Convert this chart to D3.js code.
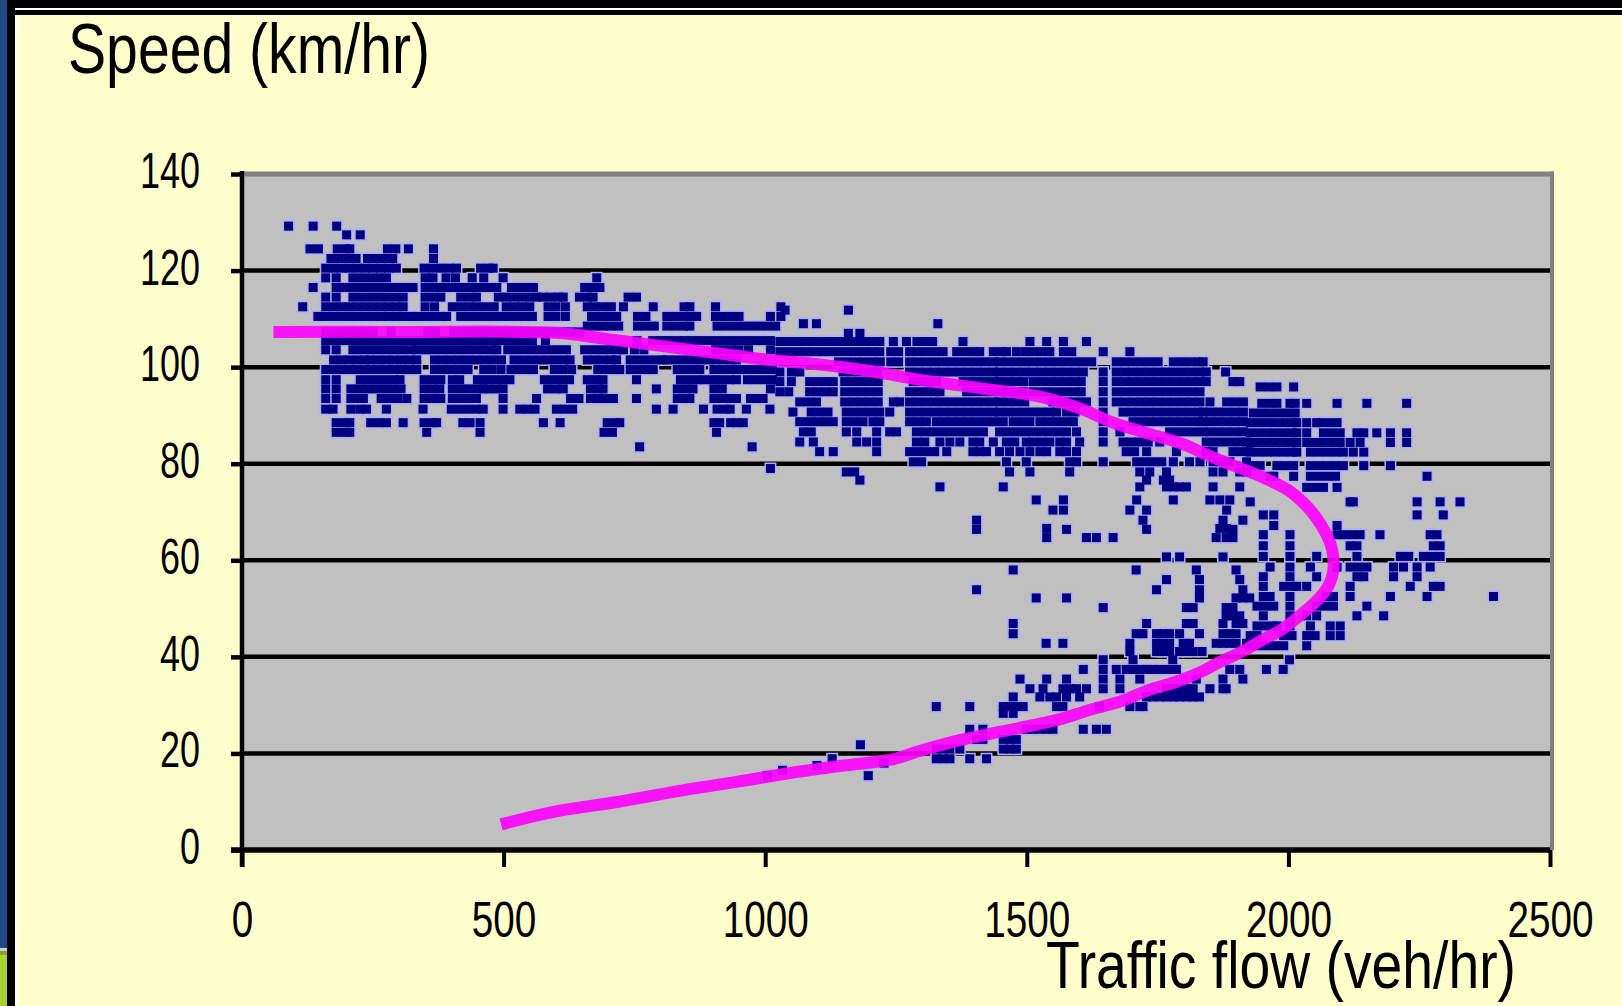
<!DOCTYPE html>
<html>
<head>
<meta charset="utf-8">
<title>Speed - flow</title>
<script src="https://cdn.jsdelivr.net/npm/d3@7"></script>
<style>
  html, body { margin: 0; padding: 0; background: #ffffcc; overflow: hidden; }
  text { font-family: "Liberation Sans", Arial, sans-serif; fill: #000; }
</style>
</head>
<body>
<svg id="chart" width="1622" height="1006"></svg>
<script>
/* axis ticks */
const flowTicks = [0, 500, 1000, 1500, 2000, 2500];
const speedTicks = [0, 20, 40, 60, 80, 100, 120, 140];

/* observed points, grouped by row: [speed, [flows...]] */
// free flow part (low flow, high speed)
const freeFlowRows = [
    [129.2, [89, 136, 181]],
    [127.4, [200, 226]],
    [124.5, [130, 146, 182, 198, 206, 278, 294, 318, 366]],
    [122.5, [170, 186, 202, 218, 240, 256, 272, 288, 366]],
    [120.5, [160, 175, 190, 205, 220, 235, 250, 265, 280, 295, 348, 364, 380, 396, 410, 456, 472, 480]],
    [118.5, [160, 180, 212, 228, 244, 260, 276, 350, 365, 390, 408, 440, 462, 499, 678]],
    [116.5, [136, 180, 195, 210, 225, 240, 255, 270, 285, 300, 315, 327, 350, 365, 380, 395, 412, 428, 444, 460, 475, 487, 515, 530, 545, 557, 655, 670, 684]],
    [114.5, [160, 180, 212, 228, 244, 260, 276, 292, 308, 350, 366, 380, 418, 434, 448, 490, 505, 520, 535, 550, 563, 575, 590, 605, 614, 645, 660, 671, 738, 754]],
    [112.5, [116, 160, 175, 190, 205, 220, 235, 250, 265, 280, 295, 308, 350, 368, 402, 418, 434, 450, 466, 482, 505, 520, 535, 550, 585, 600, 618, 660, 675, 690, 706, 729, 786, 845, 856, 905, 1030]],
    [110.5, [145, 160, 175, 190, 205, 220, 235, 250, 265, 280, 295, 310, 325, 334, 350, 365, 380, 391, 418, 434, 450, 466, 482, 498, 510, 525, 540, 555, 585, 600, 618, 668, 684, 700, 716, 756, 772, 812, 828, 844, 860, 869, 905, 920, 936, 950, 1010, 1030]],
    [108.5, [660, 675, 690, 705, 720, 756, 772, 788, 812, 828, 844, 856, 908, 924, 940, 956, 972, 988, 1004, 1020]],
    [107.3, [160, 175, 190, 205, 220, 235, 250, 285, 355, 370, 405, 420, 435, 450, 465, 480, 495, 510, 525, 540, 555, 570, 585, 600, 615, 630, 645]],
    [105.5, [160, 175, 190, 205, 220, 235, 250, 265, 280, 295, 310, 325, 334, 350, 365, 380, 395, 410, 425, 440, 455, 470, 485, 498, 510, 525, 540, 555, 580, 755, 785, 800, 815, 830, 845, 860, 875, 890, 905, 920, 935, 950, 965, 980, 995, 1010]],
    [103.6, [160, 180, 212, 228, 244, 260, 276, 292, 308, 324, 334, 350, 366, 382, 398, 414, 430, 446, 462, 478, 487, 508, 524, 540, 556, 572, 588, 604, 620, 655, 671, 687, 703, 719, 729, 750, 768, 905, 920, 935, 950, 968, 1010]],
    [101.5, [175, 190, 205, 220, 235, 245, 260, 275, 290, 305, 320, 334, 368, 384, 400, 416, 432, 448, 464, 480, 496, 520, 536, 552, 568, 584, 600, 616, 627, 660, 675, 690, 705, 716, 742, 758, 774, 790, 805, 812, 828, 844, 860, 876, 892, 905, 920, 935, 945]],
    [99.5, [160, 175, 190, 205, 220, 235, 245, 260, 275, 290, 305, 320, 334, 368, 384, 400, 416, 432, 462, 478, 495, 514, 530, 545, 557, 597, 613, 630, 680, 696, 712, 722, 742, 758, 774, 786, 832, 848, 864, 875, 902, 918, 934, 950, 966, 982, 998, 1014]],
    [97.4, [160, 180, 226, 242, 258, 274, 290, 302, 348, 364, 380, 402, 416, 450, 466, 482, 498, 512, 578, 594, 610, 626, 660, 676, 690, 754, 838, 854, 870, 884, 900, 916, 932, 945, 966, 982, 998, 1014]],
    [95.5, [160, 180, 208, 224, 240, 256, 272, 288, 304, 348, 364, 378, 402, 418, 434, 450, 461, 470, 485, 499, 584, 600, 614, 666, 682, 690, 792, 832, 848, 862, 902, 918, 1010]],
    [93.5, [160, 180, 208, 224, 232, 266, 282, 298, 315, 348, 364, 380, 402, 418, 434, 448, 499, 563, 628, 644, 666, 682, 698, 710, 754, 832, 848, 856, 902, 918, 934, 945, 972, 984, 996]],
    [91.3, [160, 174, 208, 225, 238, 276, 346, 400, 416, 432, 448, 461, 499, 531, 545, 560, 601, 616, 632, 792, 824, 882, 908, 924, 933, 964, 1009]],
    [88.5, [180, 196, 206, 246, 262, 276, 308, 348, 364, 372, 422, 436, 455, 576, 608, 698, 714, 722, 902, 913, 934, 945, 958]],
    [86.5, [180, 196, 206, 353, 455, 692, 708, 907]],
    [83.5, [760, 975]],
    [79, [1010]]
];

// transition part (flow 1000 - 1930)
const transitionRows = [
    [111.8, [1038, 1159]],
    [109, [1073, 1098, 1330]],
    [107, [1159, 1181]],
    [105.3, [1028, 1044, 1060, 1076, 1092, 1108, 1124, 1140, 1156, 1172, 1188, 1204, 1219, 1245, 1270, 1290, 1305, 1320, 1378, 1506, 1538, 1570, 1614]],
    [103.2, [1028, 1044, 1060, 1076, 1092, 1108, 1124, 1140, 1156, 1172, 1188, 1204, 1219, 1240, 1255, 1276, 1292, 1308, 1324, 1340, 1366, 1382, 1398, 1410, 1436, 1452, 1461, 1480, 1497, 1512, 1528, 1544, 1570, 1586, 1646, 1697]],
    [101.1, [1140, 1156, 1172, 1188, 1204, 1220, 1240, 1255, 1276, 1292, 1308, 1324, 1340, 1356, 1372, 1388, 1404, 1420, 1436, 1448, 1464, 1480, 1496, 1512, 1528, 1544, 1560, 1576, 1592, 1608, 1624, 1671, 1687, 1703, 1719, 1735, 1751, 1780, 1796, 1812, 1828, 1837]],
    [99, [1028, 1050, 1066, 1149, 1165, 1181, 1197, 1213, 1276, 1292, 1308, 1324, 1340, 1356, 1372, 1388, 1404, 1420, 1436, 1448, 1464, 1480, 1496, 1512, 1528, 1544, 1560, 1576, 1592, 1608, 1646, 1671, 1687, 1703, 1719, 1735, 1751, 1767, 1783, 1799, 1815, 1831, 1843, 1880]],
    [97, [1028, 1050, 1085, 1100, 1115, 1130, 1152, 1168, 1184, 1200, 1216, 1283, 1299, 1315, 1327, 1378, 1394, 1410, 1426, 1442, 1448, 1464, 1478, 1494, 1512, 1528, 1544, 1560, 1576, 1592, 1604, 1646, 1671, 1687, 1703, 1719, 1735, 1751, 1767, 1783, 1799, 1815, 1831, 1843, 1894, 1907]],
    [94.9, [1028, 1045, 1085, 1100, 1115, 1130, 1152, 1168, 1184, 1200, 1216, 1276, 1292, 1308, 1324, 1334, 1385, 1401, 1417, 1433, 1448, 1461, 1477, 1493, 1512, 1528, 1544, 1560, 1576, 1592, 1604, 1646, 1671, 1687, 1703, 1719, 1735, 1751, 1767, 1783, 1799, 1815, 1831]],
    [92.8, [1066, 1082, 1098, 1152, 1168, 1184, 1200, 1216, 1245, 1257, 1276, 1292, 1308, 1324, 1340, 1356, 1372, 1388, 1404, 1420, 1436, 1448, 1464, 1480, 1496, 1550, 1566, 1582, 1598, 1614, 1646, 1671, 1687, 1703, 1719, 1735, 1751, 1767, 1783, 1799, 1815, 1831, 1850, 1882, 1898, 1914]],
    [90.7, [1053, 1088, 1104, 1120, 1155, 1171, 1187, 1203, 1219, 1238, 1276, 1292, 1308, 1324, 1340, 1356, 1372, 1388, 1404, 1420, 1436, 1448, 1464, 1480, 1496, 1512, 1528, 1544, 1557, 1576, 1592, 1646, 1684, 1700, 1716, 1732, 1748, 1764, 1780, 1796, 1812, 1828, 1837, 1850, 1866, 1882, 1898, 1914]],
    [88.7, [1066, 1082, 1098, 1114, 1130, 1155, 1171, 1187, 1206, 1219, 1276, 1292, 1308, 1327, 1343, 1359, 1375, 1391, 1407, 1423, 1439, 1455, 1474, 1490, 1506, 1525, 1541, 1557, 1573, 1589, 1646, 1703, 1719, 1735, 1751, 1767, 1783, 1799, 1815, 1831, 1837, 1850, 1866, 1882, 1898, 1914]],
    [86.6, [1073, 1088, 1155, 1175, 1213, 1238, 1251, 1289, 1305, 1321, 1337, 1353, 1369, 1385, 1401, 1417, 1448, 1464, 1480, 1496, 1512, 1528, 1544, 1560, 1576, 1595, 1646, 1678, 1773, 1789, 1805, 1821, 1837, 1850, 1866, 1882, 1898, 1914]],
    [84.5, [1066, 1092, 1175, 1194, 1213, 1289, 1305, 1334, 1353, 1372, 1397, 1410, 1436, 1461, 1477, 1499, 1512, 1528, 1544, 1563, 1576, 1601, 1646, 1684, 1700, 1716, 1732, 1754, 1843, 1859, 1875, 1891, 1907, 1920]],
    [82.5, [1104, 1130, 1213, 1276, 1292, 1308, 1324, 1347, 1397, 1410, 1423, 1448, 1467, 1487, 1506, 1525, 1538, 1563, 1576, 1595, 1690, 1706, 1729, 1786, 1843, 1856, 1894, 1910, 1925]],
    [80.4, [1283, 1299, 1461, 1499, 1582, 1595, 1646, 1710, 1726, 1742, 1758, 1780, 1811, 1831, 1856, 1872, 1888, 1920]],
    [78.3, [1155, 1171, 1467, 1506, 1582, 1716, 1735, 1767, 1856, 1875, 1907, 1920]],
    [76.6, [1181, 1729, 1761, 1773]],
    [75.2, [1334, 1455, 1716, 1767, 1780, 1792, 1805, 1856, 1907]],
    [72.5, [1518, 1570, 1710, 1780, 1850, 1869, 1888]],
    [70.4, [1550, 1570, 1697, 1729, 1882]],
    [68.3, [1404, 1722, 1875, 1913]],
    [66.6, [1538, 1869, 1882]]
];

// near capacity (flow above 1925)
const capacityRows = [
    [95.9, [1946, 1962, 1978, 2010]],
    [92.5, [1949, 1965, 1978, 2003, 2013, 2035, 2093, 2150, 2226]],
    [90.5, [1933, 1949, 1965, 1981, 1997, 2013]],
    [88.5, [1927, 1943, 1959, 1975, 1991, 2007, 2016, 2035, 2054, 2061, 2077, 2093]],
    [86.4, [1927, 1943, 1959, 1975, 1991, 2007, 2016, 2035, 2067, 2083, 2099, 2131, 2144, 2169, 2195, 2226]],
    [84.4, [1927, 1943, 1959, 1975, 1991, 2007, 2016, 2035, 2051, 2067, 2083, 2099, 2118, 2137, 2195, 2226]],
    [82.4, [1927, 1943, 1959, 1975, 1991, 2007, 2016, 2042, 2058, 2074, 2090, 2105, 2124, 2144]],
    [79.6, [1930, 1946, 1978, 1994, 2010, 2042, 2058, 2074, 2090, 2105, 2144, 2195]],
    [77.4, [1965, 1972, 2010, 2042, 2058, 2074, 2090, 2265]],
    [75.1, [2035, 2051, 2067, 2093]],
    [72.1, [1927, 2118, 2124, 2246, 2290, 2328]],
    [69.4, [1952, 1972, 2246, 2296]],
    [67.2, [1972, 2093]],
    [65.3, [1952, 2003, 2093, 2105, 2121, 2137, 2175, 2271, 2284]],
    [63, [1952, 2003, 2118, 2131, 2277, 2290]],
    [60.8, [1952, 2003, 2054, 2131, 2214, 2230, 2258, 2274, 2290]],
    [58.6, [1965, 2003, 2042, 2093, 2118, 2134, 2150, 2201, 2220, 2246, 2271]],
    [56.6, [1952, 2003, 2054, 2131, 2144, 2201, 2246]],
    [54.6, [1952, 1991, 2007, 2016, 2035, 2118, 2233, 2277, 2290]],
    [52.5, [1952, 1965, 2003, 2074, 2086, 2118, 2195, 2265, 2392]],
    [50.5, [1940, 1956, 1972, 2003, 2054, 2070, 2086, 2150]],
    [48.5, [1952, 2003, 2035, 2054, 2131, 2182]],
    [46.4, [1940, 1956, 1972, 1978, 2003, 2042, 2080, 2099]],
    [44.4, [1927, 1940, 1991, 2007, 2035, 2051, 2080, 2099]],
    [42.3, [1927, 1943, 1959, 1975, 1991, 2035]]
];

// congested part (low speed)
const congestedRows = [
    [66.4, [1404, 1576, 1729, 1894]],
    [64.7, [1538, 1614, 1633, 1665, 1862, 1881, 1894]],
    [60.7, [1767, 1792, 1875]],
    [58, [1474, 1709, 1824, 1900]],
    [56, [1767, 1830, 1907]],
    [53.9, [1404, 1748, 1830, 1913]],
    [52.2, [1518, 1576, 1830, 1900, 1913, 1926]],
    [50.2, [1646, 1805, 1818, 1881, 1894]],
    [48.5, [1881, 1894, 1907]],
    [46.9, [1474, 1729, 1805, 1818, 1875, 1900, 1913]],
    [44.8, [1474, 1709, 1722, 1748, 1760, 1773, 1792, 1830, 1875, 1888, 1900]],
    [42.8, [1537, 1569, 1697, 1748, 1760, 1773, 1799, 1811, 1862, 1875, 1888, 1900, 1920]],
    [41.1, [1697, 1748, 1760, 1773, 1792, 1805, 1818, 1835]],
    [39.4, [1646, 1703, 1779, 2002]],
    [37.4, [1608, 1646, 1671, 1690, 1703, 1716, 1729, 1741, 1754, 1770, 1786, 1888, 1907, 1958, 1990]],
    [35.4, [1487, 1538, 1576, 1646, 1678, 1716, 1824, 1875, 1913]],
    [33.4, [1506, 1531, 1569, 1582, 1595, 1614, 1646, 1678, 1767, 1780, 1792, 1805, 1818, 1850, 1875, 1881]],
    [31.7, [1474, 1525, 1544, 1557, 1576, 1601, 1729, 1741, 1754, 1767, 1780, 1792, 1805, 1818, 1830]],
    [29.7, [1327, 1391, 1455, 1467, 1480, 1493, 1557, 1569, 1639, 1697, 1716, 1722]],
    [28.3, [1455, 1474]],
    [25, [1391, 1416, 1499, 1512, 1525, 1538, 1550, 1608, 1633, 1652]],
    [22.9, [1404, 1416, 1455, 1468, 1480]],
    [21.8, [1182]],
    [20.9, [1327, 1340, 1353, 1372, 1455, 1468, 1480]],
    [18.9, [1128, 1327, 1340, 1353, 1391, 1423]],
    [18, [1227]],
    [17.5, [1099]],
    [16.5, [1033]],
    [15.4, [1004, 1197]]
];

/* fitted speed-flow relation */
const speedFlowCurve = [
    [60, 107.3], [300, 107.3], [600, 107.1], [700, 105.8], [800, 104.4], [900, 103], [1000, 101.6],
    [1100, 100.6], [1200, 99.2], [1300, 97.3], [1420, 95.5], [1520, 94], [1600, 91.5], [1665, 88.5],
    [1740, 86], [1800, 84], [1845, 81.8], [1910, 79], [1955, 77], [2000, 74.5], [2028, 72], [2052, 69],
    [2072, 65.5], [2084, 62], [2086, 58], [2078, 55], [2062, 52.5], [2038, 50], [2010, 47.5],
    [1985, 45.5], [1950, 43.5], [1910, 41], [1870, 39], [1835, 37], [1790, 35], [1730, 33],
    [1685, 31], [1620, 29], [1560, 27], [1450, 24.5], [1370, 22.7], [1295, 20.5], [1245, 18.8],
    [1150, 17.5], [1050, 16], [950, 14.2], [850, 12.5], [720, 10], [600, 8], [495, 5.3]
];

const svg = d3.select("#chart");

// frame of the slide
svg.append("rect").attr("x", 0).attr("y", 0).attr("width", 1622).attr("height", 1006).attr("fill", "#ffffcc");
svg.append("rect").attr("x", 7).attr("y", 0).attr("width", 1615).attr("height", 15).attr("fill", "#000");
svg.append("rect").attr("x", 15).attr("y", 8).attr("width", 1607).attr("height", 2).attr("fill", "#fff");
svg.append("rect").attr("x", 7).attr("y", 0).attr("width", 8).attr("height", 1006).attr("fill", "#000");
svg.append("rect").attr("x", 15).attr("y", 15).attr("width", 4).attr("height", 991).attr("fill", "#fffff0");
svg.append("rect").attr("x", 0).attr("y", 0).attr("width", 7).attr("height", 948).attr("fill", "#1b4a86");
svg.append("rect").attr("x", 0).attr("y", 948).attr("width", 7).attr("height", 3).attr("fill", "#d0d0c8");
svg.append("rect").attr("x", 0).attr("y", 951).attr("width", 7).attr("height", 4).attr("fill", "#8aa226");
svg.append("rect").attr("x", 0).attr("y", 955).attr("width", 7).attr("height", 51).attr("fill", "#a8d232");

const x = d3.scaleLinear().domain([0, 2500]).range([242, 1550]);
const y = d3.scaleLinear().domain([0, 140]).range([850, 174]);

// plot area
svg.append("rect")
    .attr("x", x(0)).attr("y", y(140))
    .attr("width", x(2500) - x(0)).attr("height", y(0) - y(140))
    .attr("fill", "#c0c0c0");

// horizontal gridlines
svg.append("g").selectAll("line")
    .data(speedTicks.filter(d => d > 0 && d < 140))
    .enter().append("line")
    .attr("x1", x(0)).attr("x2", x(2500))
    .attr("y1", d => y(d)).attr("y2", d => y(d))
    .attr("stroke", "#000").attr("stroke-width", 4.5);

// grey border top and right
svg.append("line").attr("x1", x(0)).attr("x2", x(2500) + 4).attr("y1", y(140)).attr("y2", y(140))
    .attr("stroke", "#808080").attr("stroke-width", 5);
svg.append("line").attr("x1", x(2500) + 2).attr("x2", x(2500) + 2).attr("y1", y(140) - 2.5).attr("y2", y(0))
    .attr("stroke", "#808080").attr("stroke-width", 4);

// scatter points
const toPoints = rows => rows.flatMap(([speed, flows]) => flows.map(flow => ({ flow: flow, speed: speed })));
const points = [freeFlowRows, transitionRows, capacityRows, congestedRows].flatMap(toPoints);

const dots = svg.append("g");
dots.selectAll("rect.halo")
    .data(points)
    .enter().append("rect")
    .attr("class", "halo")
    .attr("x", d => x(d.flow) - 6)
    .attr("y", d => y(d.speed) - 6)
    .attr("width", 12).attr("height", 12)
    .attr("fill", "#aeb0f2");
dots.selectAll("rect.dot")
    .data(points)
    .enter().append("rect")
    .attr("class", "dot")
    .attr("x", d => x(d.flow) - 4.5)
    .attr("y", d => y(d.speed) - 4.5)
    .attr("width", 9).attr("height", 9)
    .attr("fill", "#000080");

// fitted curve
const line = d3.line()
    .x(d => x(d[0]))
    .y(d => y(d[1]))
    .curve(d3.curveCatmullRom.alpha(0.5));

svg.append("path")
    .datum(speedFlowCurve)
    .attr("d", line)
    .attr("fill", "none")
    .attr("stroke", "#ff00ff")
    .attr("stroke-opacity", 0.9)
    .attr("stroke-width", 12);

// axes
const yAxis = svg.append("g")
    .attr("transform", `translate(${x(0)},0)`)
    .call(d3.axisLeft(y).tickValues(speedTicks).tickFormat(d3.format("d"))
        .tickSize(11).tickPadding(31).tickSizeOuter(0));
const xAxis = svg.append("g")
    .attr("transform", `translate(0,${y(0)})`)
    .call(d3.axisBottom(x).tickValues(flowTicks).tickFormat(d3.format("d"))
        .tickSize(17).tickSizeOuter(0));

yAxis.select(".domain").remove();
xAxis.select(".domain").remove();
yAxis.selectAll(".tick line").attr("stroke", "#000").attr("stroke-width", 4.5);
xAxis.selectAll(".tick line").attr("stroke", "#000").attr("stroke-width", 4);

yAxis.selectAll(".tick text")
    .attr("font-size", 50)
    .attr("dy", 13.5)
    .attr("textLength", d => String(d).length * 20)
    .attr("lengthAdjust", "spacingAndGlyphs")
    .style("font-family", "'Liberation Sans', Arial, sans-serif")
    .attr("fill", "#000");
xAxis.selectAll(".tick text")
    .attr("font-size", 50)
    .attr("y", 87).attr("dy", 0)
    .attr("textLength", d => String(d).length * 21.5)
    .attr("lengthAdjust", "spacingAndGlyphs")
    .style("font-family", "'Liberation Sans', Arial, sans-serif")
    .attr("fill", "#000");

// axis lines
svg.append("line").attr("x1", x(0)).attr("x2", x(0)).attr("y1", y(140) - 3).attr("y2", y(0) + 17)
    .attr("stroke", "#000").attr("stroke-width", 4.5);
svg.append("line").attr("x1", x(0) - 11).attr("x2", x(2500)).attr("y1", y(0)).attr("y2", y(0))
    .attr("stroke", "#000").attr("stroke-width", 5.5);

// titles
svg.append("text")
    .attr("x", 68).attr("y", 73)
    .attr("font-size", 71)
    .attr("textLength", 362)
    .attr("lengthAdjust", "spacingAndGlyphs")
    .text("Speed (km/hr)");
svg.append("text")
    .attr("x", 1046).attr("y", 988)
    .attr("font-size", 67)
    .attr("textLength", 470)
    .attr("lengthAdjust", "spacingAndGlyphs")
    .text("Traffic flow (veh/hr)");
</script>
</body>
</html>
